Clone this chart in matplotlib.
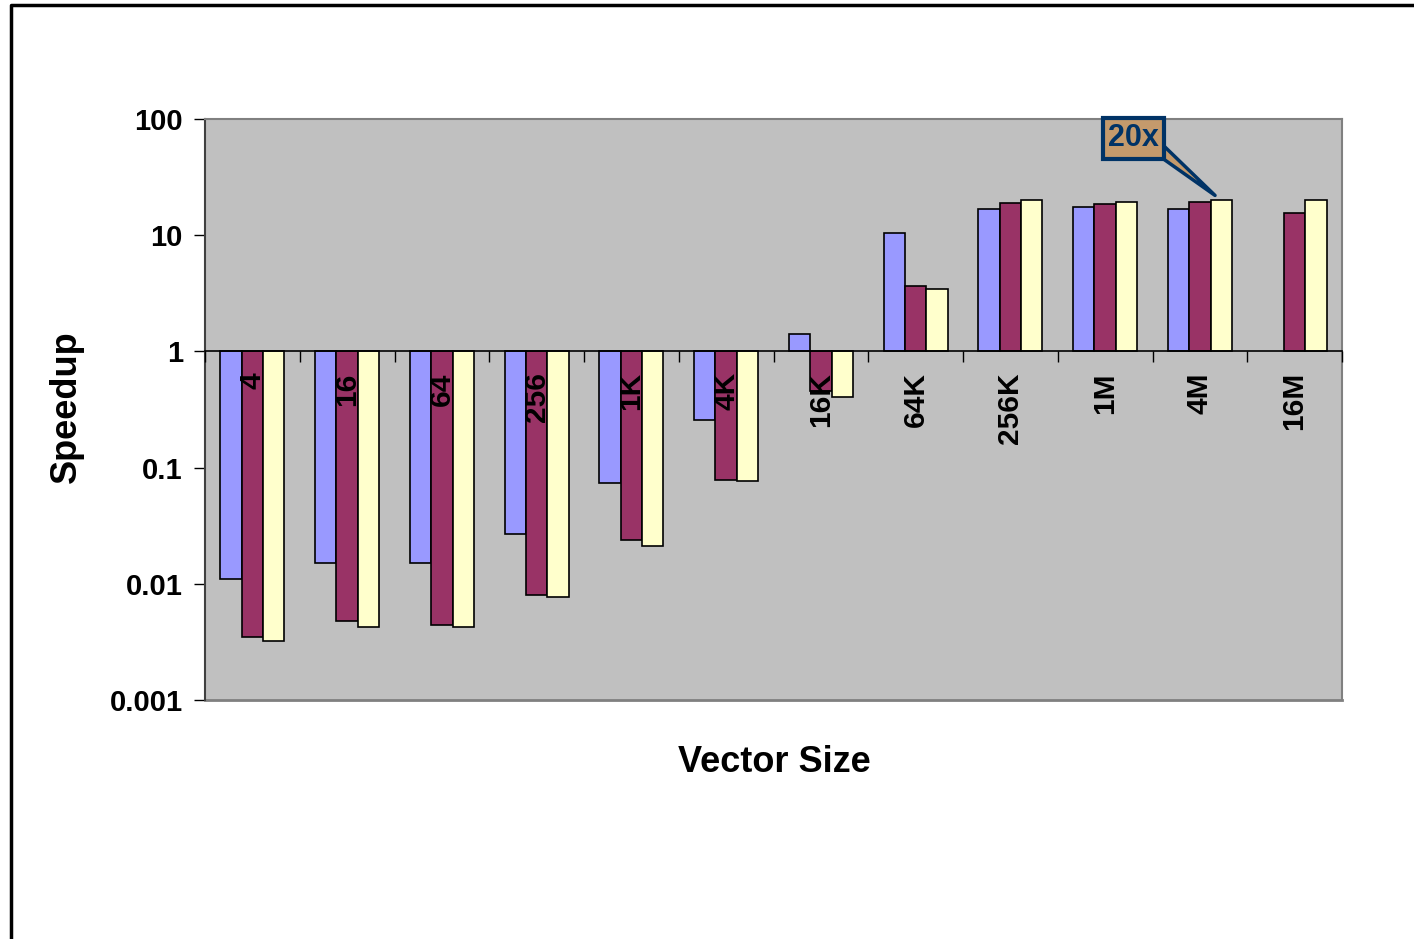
import numpy as np
import matplotlib
matplotlib.use("Agg")
import matplotlib.pyplot as plt
from matplotlib.lines import Line2D
from matplotlib.ticker import FixedLocator, FuncFormatter

plt.rcParams['font.family'] = ['Liberation Sans', 'DejaVu Sans']
plt.rcParams['font.weight'] = 'bold'

categories = ["4", "16", "64", "256", "1K", "4K", "16K", "64K", "256K", "1M", "4M", "16M"]
series_a = [0.0111, 0.0150, 0.0150, 0.0266, 0.0731, 0.255, 1.40, 10.4, 16.7, 17.4, 16.8, np.nan]
series_b = [0.00346, 0.00475, 0.00438, 0.00794, 0.0236, 0.0776, 0.453, 3.63, 18.8, 18.7, 19.3, 15.5]
series_c = [0.00319, 0.00421, 0.00421, 0.00764, 0.0210, 0.0760, 0.402, 3.42, 19.9, 19.4, 20.2, 20.2]
y_ticks = [0.001, 0.01, 0.1, 1, 10, 100]
y_tick_labels = ["0.001", "0.01", "0.1", "1", "10", "100"]
callout_text = "20x"
callout_value = 22

colors = ["#9999FF", "#993366", "#FFFFCC"]

fig = plt.figure(figsize=(14.14, 9.39), dpi=100)
ax = fig.add_axes([205/1414, 1-700/939, (1342-205)/1414, (700-119)/939])
ax.set_facecolor("#C0C0C0")
ax.set_yscale("log")
ax.set_ylim(0.001, 100)
n = len(categories)
ax.set_xlim(-0.5, n - 0.5)

x = np.arange(n)
w = 0.225
base = 1.0
for i, (vals, col) in enumerate(zip([series_a, series_b, series_c], colors)):
    v = np.array(vals, dtype=float)
    ax.bar(x + (i - 1) * w, v - base, bottom=base, width=w, color=col,
           edgecolor="black", linewidth=1.2, zorder=3)

# y axis
ax.yaxis.set_major_locator(FixedLocator(y_ticks))
ax.yaxis.set_major_formatter(FuncFormatter(lambda v, p: y_tick_labels[y_ticks.index(v)] if v in y_ticks else ""))
ax.yaxis.set_minor_locator(FixedLocator([]))
ax.tick_params(axis="y", which="major", direction="out", length=8, width=1,
               labelsize=21, pad=8, color="black")
for lab in ax.get_yticklabels():
    lab.set_fontweight("bold")

# x axis crosses at 1
ax.spines["bottom"].set_position(("data", 1))
ax.spines["bottom"].set_color("black")
ax.spines["bottom"].set_linewidth(1.2)
ax.spines["bottom"].set_zorder(4)
ax.set_xticks(x)
ax.set_xticklabels(categories, rotation=90, fontsize=21.5, fontweight="bold", va="top")
ax.set_xticks(np.arange(n + 1) - 0.5, minor=True)
ax.tick_params(axis="x", which="major", length=0, pad=15)
ax.tick_params(axis="x", which="minor", length=8, width=1, direction="out", color="black")
ax.xaxis.set_zorder(5)

ax.spines["left"].set_color("#404040")
ax.spines["left"].set_linewidth(1.5)
for s in ["top", "right"]:
    ax.spines[s].set_color("#808080")
    ax.spines[s].set_linewidth(1.5)
ax.axhline(0.001, color="#808080", linewidth=2, clip_on=False, zorder=2)

# labels
fig.text(66/1414, 1-407/939, "Speedup", rotation=90, ha="center", va="center",
         fontsize=26, fontweight="bold")
fig.text(774/1414, 1-762/939, "Vector Size", ha="center", va="center",
         fontsize=26, fontweight="bold")

# callout
ax.annotate(callout_text, xy=(categories.index("4M") + 0.16, callout_value),
            xytext=(9.30, 68), textcoords="data",
            ha="center", va="center", fontsize=22, fontweight="bold", color="#003366",
            bbox=dict(boxstyle="square,pad=0.18", fc="#C49A6C", ec="#003366", lw=3),
            arrowprops=dict(arrowstyle="wedge,tail_width=0.45,shrink_factor=0.5",
                            fc="#C49A6C", ec="#003366", lw=2.5,
                            patchA=None, shrinkA=0, shrinkB=0,
                            relpos=(0.75, 0.5)),
            zorder=6)

# figure border (top and left)
fig.add_artist(Line2D([10.5/1414, 10.5/1414, 1.0], [0.0, 1-5/939, 1-5/939],
                      transform=fig.transFigure, color="black", linewidth=2.5))

fig.savefig("out.png", dpi=100, facecolor="white")
